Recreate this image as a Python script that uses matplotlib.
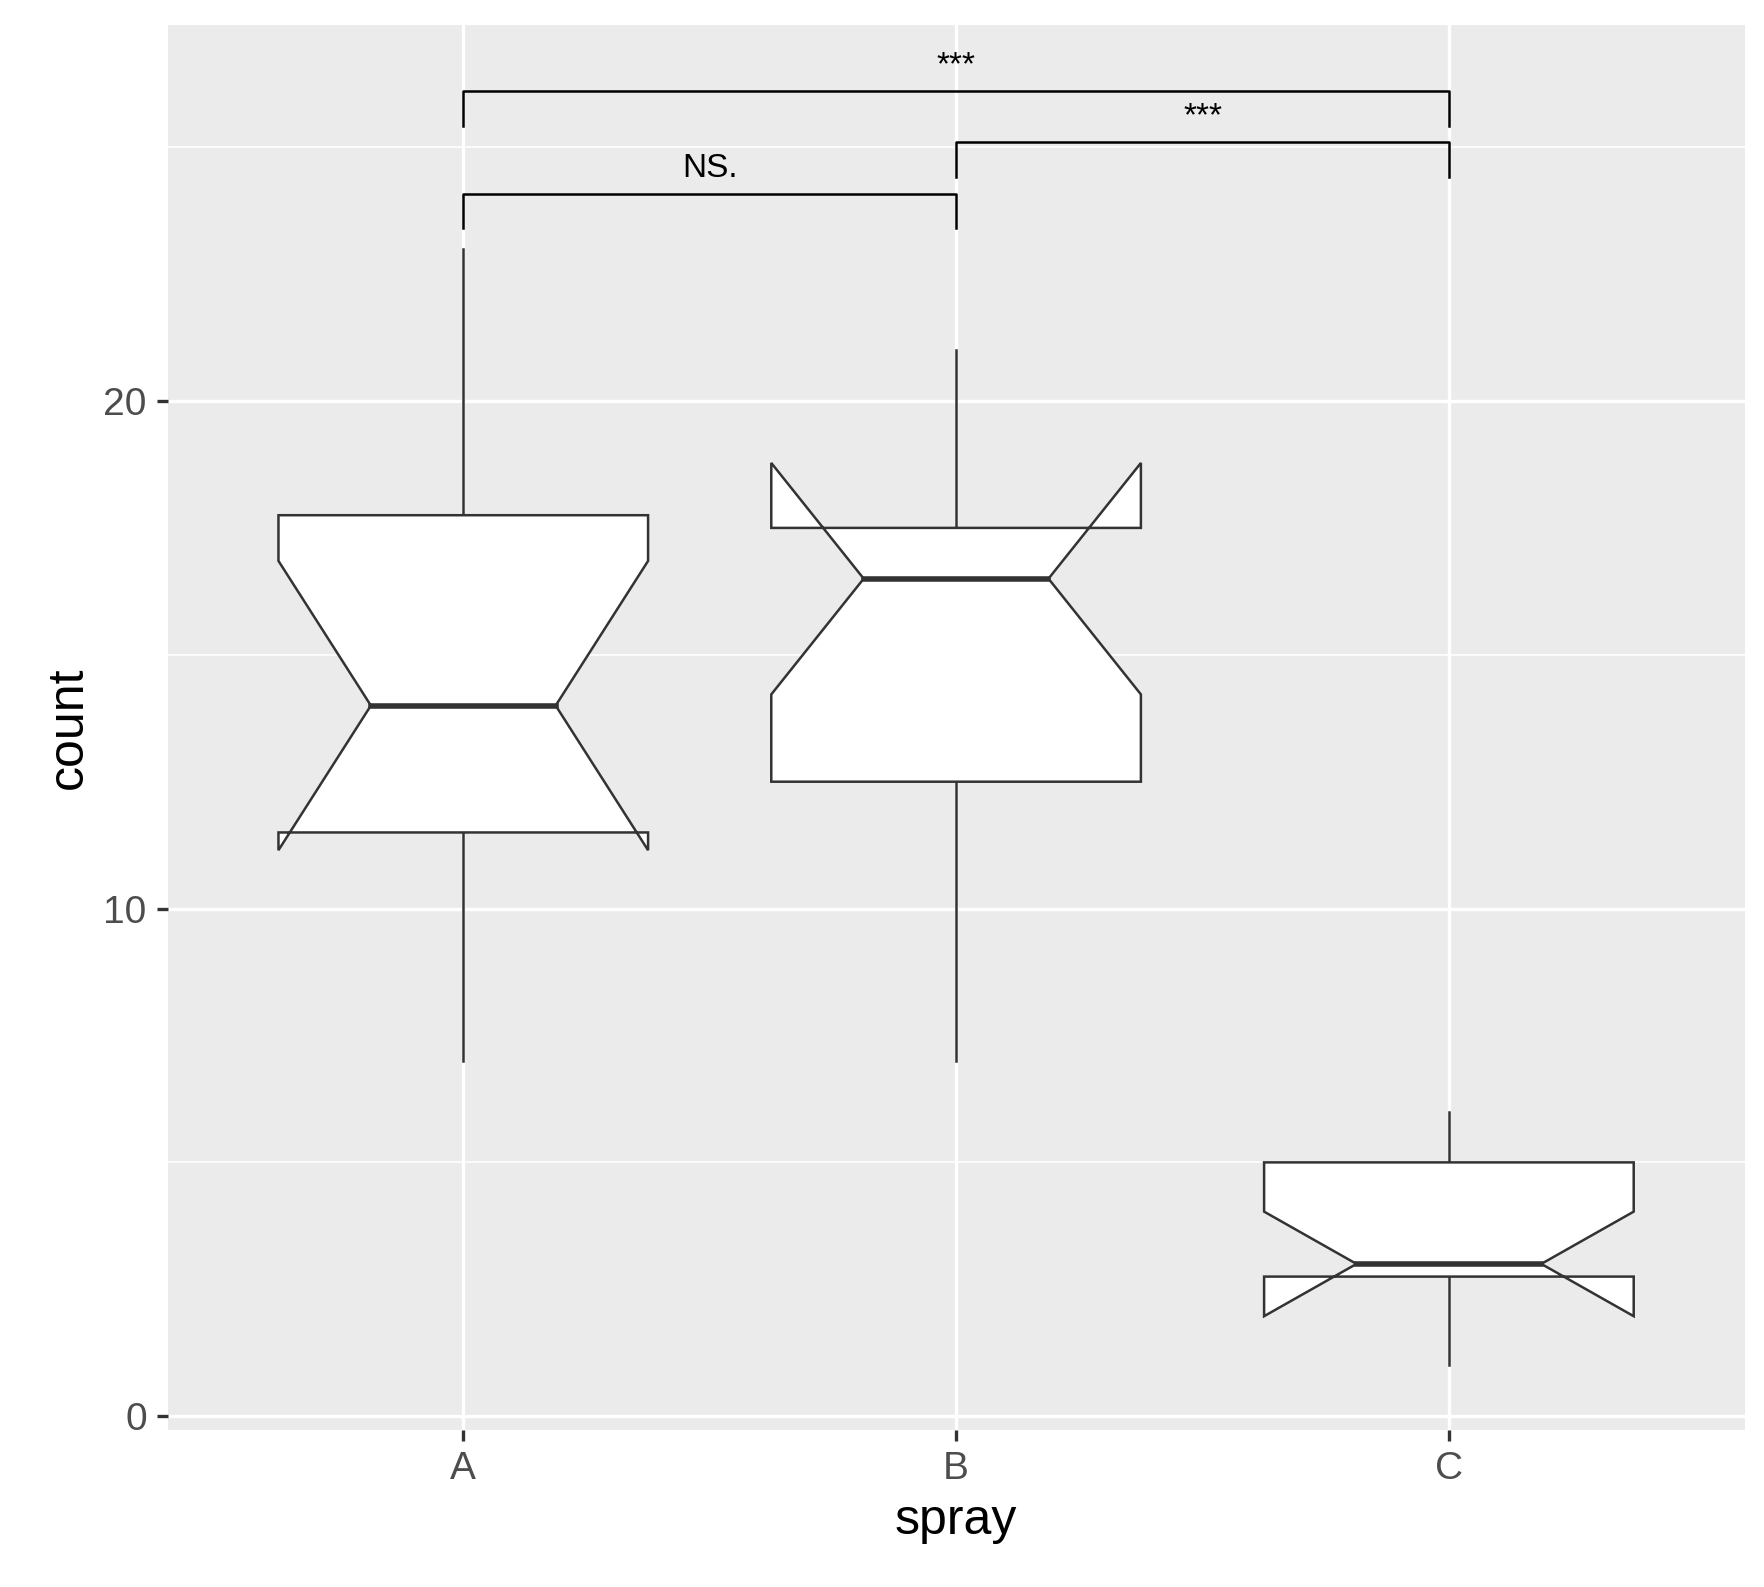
import matplotlib
matplotlib.use("Agg")
import matplotlib.pyplot as plt
from matplotlib.patches import Polygon

plt.rcParams['font.family'] = ['Liberation Sans', 'DejaVu Sans']

categories = ["A", "B", "C"]
lower_whisker = [7, 7, 1]
q1 = [11.5, 12.5, 2.75]
median = [14, 16.5, 3]
q3 = [17.75, 17.5, 5]
upper_whisker = [23, 21, 6]
notch_low = [11.15, 14.22, 1.97]
notch_high = [16.85, 18.78, 4.03]
comparisons = [(0, 1, "NS.", 24.08), (1, 2, "***", 25.1), (0, 2, "***", 26.1)]

fig = plt.figure(figsize=(8.82, 7.935), dpi=200)
ax = fig.add_axes([0.095, 0.099, 0.894, 0.885])
ax.set_facecolor('#EBEBEB')
ax.set_xlim(0.4, 3.6)
ax.set_ylim(-0.27, 27.4)
for y in [5, 15, 25]:
    ax.axhline(y, color='white', lw=0.6, zorder=0)
for y in [0, 10, 20]:
    ax.axhline(y, color='white', lw=1.2, zorder=0)
for i in range(3):
    ax.axvline(i + 1, color='white', lw=1.2, zorder=0)

hw = 0.375
nw = hw * 0.5
ec = '#333333'
for i in range(3):
    x = i + 1
    ax.plot([x, x], [q3[i], upper_whisker[i]], color=ec, lw=0.9, zorder=2)
    ax.plot([x, x], [lower_whisker[i], q1[i]], color=ec, lw=0.9, zorder=2)
    pts = [(x - hw, q1[i]), (x - hw, notch_low[i]), (x - nw, median[i]),
           (x - hw, notch_high[i]), (x - hw, q3[i]), (x + hw, q3[i]),
           (x + hw, notch_high[i]), (x + nw, median[i]), (x + hw, notch_low[i]),
           (x + hw, q1[i])]
    ax.add_patch(Polygon(pts, closed=True, fc='white', ec=ec, lw=0.9, zorder=3))
    ax.plot([x - nw, x + nw], [median[i], median[i]], color=ec, lw=2.0, zorder=4)

for a, b, lab, y in comparisons:
    xa, xb = a + 1, b + 1
    ax.plot([xa, xa, xb, xb], [y - 0.68, y, y, y - 0.68], color='black', lw=0.9, zorder=5)
    ax.text((xa + xb) / 2, y + 0.2, lab, ha='center', va='bottom', fontsize=12, zorder=5)

ax.set_xticks([1, 2, 3])
ax.set_xticklabels(categories)
ax.set_yticks([0, 10, 20])
ax.tick_params(colors='#333333', labelcolor='#4D4D4D', labelsize=14, length=4, width=1.2)
for s in ax.spines.values():
    s.set_visible(False)
ax.set_xlabel("spray", fontsize=18)
ax.set_ylabel("count", fontsize=18)
fig.savefig("out.png", dpi=200)
